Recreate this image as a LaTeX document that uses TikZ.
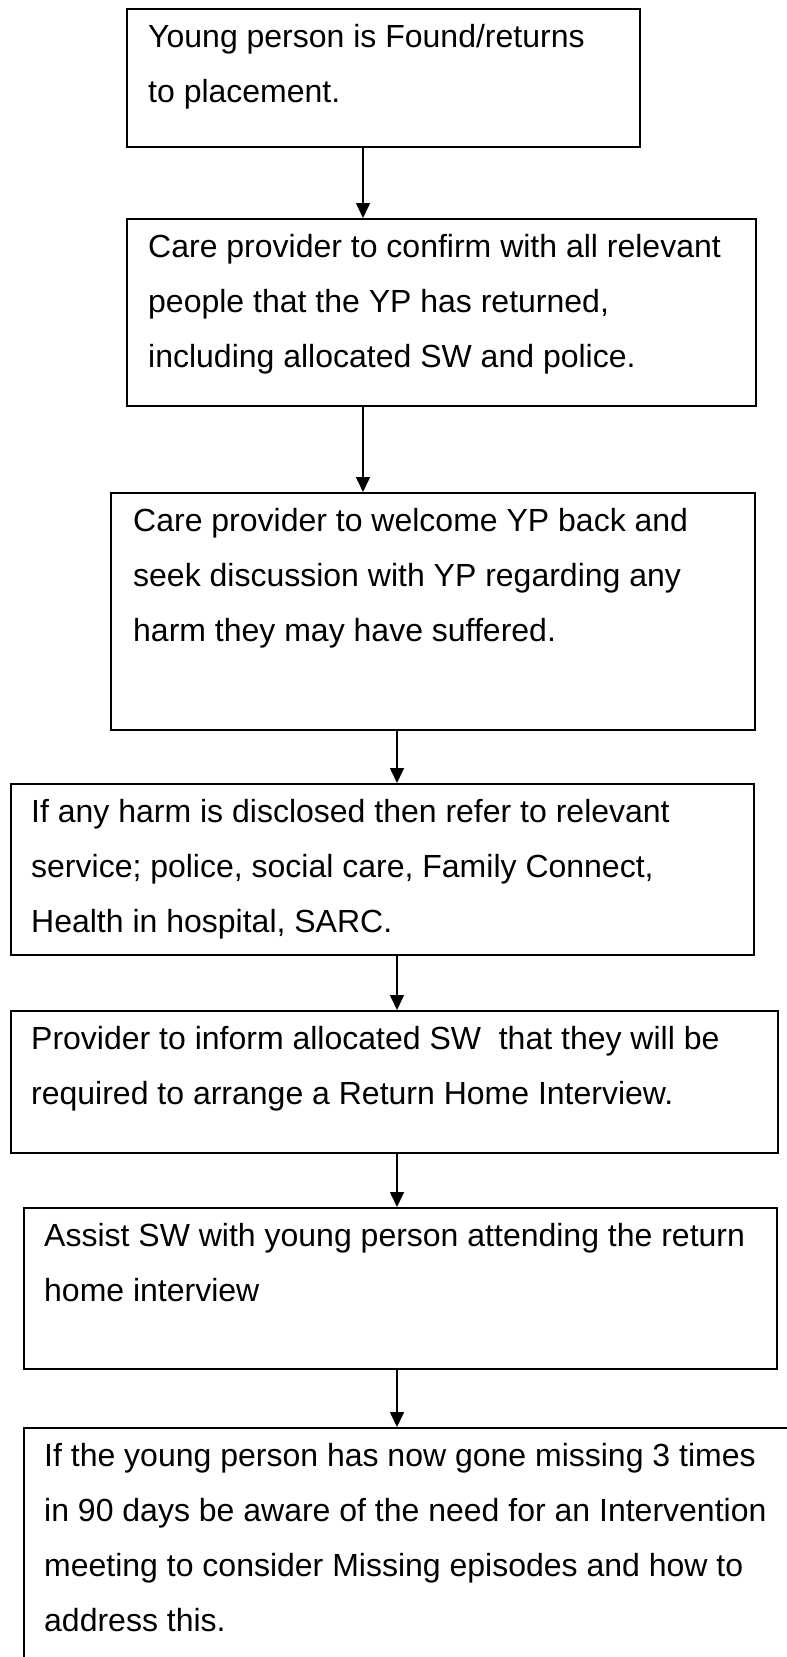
\documentclass[tikz,border=0pt]{standalone}
\usepackage{fontspec}
\setmainfont{Liberation Sans}
\usetikzlibrary{arrows.meta}
\begin{document}
\begin{tikzpicture}[x=1pt,y=-1pt,
  box/.style={draw=black,line width=1.6pt,rectangle,inner sep=0pt,anchor=north west},
  txt/.style={anchor=base west,inner sep=0pt,font=\fontsize{32}{38}\selectfont},
  flow/.style={line width=1.6pt,-{Triangle[length=15pt,width=14pt]}}]
\useasboundingbox (0,0) rectangle (787,1657);
\clip (0,0) rectangle (787,1657);
\fill[white] (0,0) rectangle (787,1657);
% boxes
\node[box,minimum width=513pt,minimum height=138pt] (b1) at (126,8) {};
\node[box,minimum width=629pt,minimum height=187pt] (b2) at (126,218) {};
\node[box,minimum width=644pt,minimum height=237pt] (b3) at (110,492) {};
\node[box,minimum width=743pt,minimum height=171pt] (b4) at (10,783) {};
\node[box,minimum width=767pt,minimum height=142pt] (b5) at (10,1010) {};
\node[box,minimum width=753pt,minimum height=161pt] (b6) at (23,1207) {};
\node[box,minimum width=800pt,minimum height=260pt] (b7) at (23,1427) {};
% texts
\node[txt] (t1a) at (148,47) {Young person is Found/returns};
\node[txt] (t1b) at (148,102) {to placement.};
\node[txt] (t2a) at (148,257) {Care provider to confirm with all relevant};
\node[txt] (t2b) at (148,312) {people that the YP has returned,};
\node[txt] (t2c) at (148,367) {including allocated SW and police.};
\node[txt] (t3a) at (133,531) {Care provider to welcome YP back and};
\node[txt] (t3b) at (133,586) {seek discussion with YP regarding any};
\node[txt] (t3c) at (133,641) {harm they may have suffered.};
\node[txt] (t4a) at (31,822) {If any harm is disclosed then refer to relevant};
\node[txt] (t4b) at (31,877) {service; police, social care, Family Connect,};
\node[txt] (t4c) at (31,932) {Health in hospital, SARC.};
\node[txt] (t5a) at (31,1049) {Provider to inform allocated SW\ \ that they will be};
\node[txt] (t5b) at (31,1104) {required to arrange a Return Home Interview.};
\node[txt] (t6a) at (44,1246) {Assist SW with young person attending the return};
\node[txt] (t6b) at (44,1301) {home interview};
\node[txt] (t7a) at (44,1466) {If the young person has now gone missing 3 times};
\node[txt] (t7b) at (44,1521) {in 90 days be aware of the need for an Intervention};
\node[txt] (t7c) at (44,1576) {meeting to consider Missing episodes and how to};
\node[txt] (t7d) at (44,1631) {address this.};
% arrows
\draw[flow] (b1.south west) ++(237,0) coordinate (a1s) -- (a1s |- b2.north);
\draw[flow] (b2.south west) ++(237,0) coordinate (a2s) -- (a2s |- b3.north);
\draw[flow] (b3.south west) ++(287,0) coordinate (a3s) -- (a3s |- b4.north);
\draw[flow] (b4.south west) ++(387,0) coordinate (a4s) -- (a4s |- b5.north);
\draw[flow] (b5.south west) ++(387,0) coordinate (a5s) -- (a5s |- b6.north);
\draw[flow] (b6.south west) ++(374,0) coordinate (a6s) -- (a6s |- b7.north);
\end{tikzpicture}
\end{document}
